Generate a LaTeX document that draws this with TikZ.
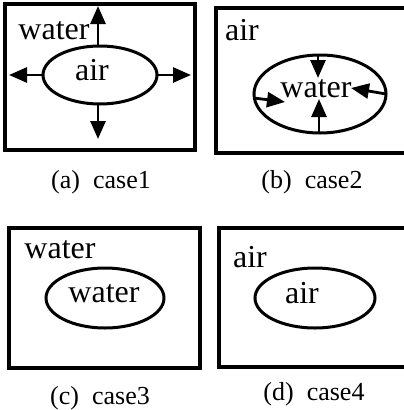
\documentclass[tikz,border=0pt]{standalone}
\usepackage{fontspec}
\setmainfont{Liberation Serif}
\usetikzlibrary{shapes.geometric,arrows.meta}
\tikzset{
  frame/.style={draw=black,line width=3.6pt,rectangle,inner sep=0pt,outer sep=0pt},
  bubble/.style={draw=black,line width=3pt,ellipse,inner sep=0pt,outer sep=0pt},
  lbl/.style={anchor=base,inner sep=0pt,font=\fontsize{32}{34}\selectfont},
  captext/.style={anchor=base,inner sep=0pt,font=\fontsize{26}{28}\selectfont},
  flow/.style={line width=2.8pt,-{Triangle[length=18pt,width=15pt]}}
}
\begin{document}
\begin{tikzpicture}[x=1pt,y=-1pt]
\useasboundingbox (0,0) rectangle (404,410);
\clip (0,0) rectangle (404,410);
% case 1
\node[frame,minimum width=190pt,minimum height=146pt] (boxa) at (100,77) {};
\node[bubble,minimum width=114pt,minimum height=58pt] (ea) at (100,75) {};
\node[lbl] (wa) at (54,39) {water};
\node[lbl] (aa) at (92,80) {air};
\coordinate (au) at (98,6);
\coordinate (al) at (9,75);
\coordinate (ar) at (191,75);
\coordinate (ad) at (98,139);
\draw[flow] (ea.north -| au) -- (au);
\draw[flow] (ea.west) -- (al);
\draw[flow] (ea.east) -- (ar);
\draw[flow] (ea.south -| ad) -- (ad);
\node[captext] (ca) at (101,188) {(a)\enspace case1};
% case 2
\node[frame,minimum width=190pt,minimum height=145pt] (boxb) at (311,80.5) {};
\node[bubble,minimum width=132pt,minimum height=78pt] (eb) at (320,94) {};
\node[lbl] (ab) at (242,40) {air};
\node[lbl] (wb) at (316,97) {water};
\coordinate (bu) at (318,78);
\coordinate (bd) at (319,99);
\coordinate (bl) at (285,102);
\coordinate (br) at (351,88);
\draw[flow] (eb.north -| bu) -- (bu);
\draw[flow] (eb.south -| bd) -- (bd);
\draw[flow] (eb.west) ++(0,4) -- (bl);
\draw[flow] (eb.east) -- (br);
\node[captext] (cb) at (312,188) {(b)\enspace case2};
% case 3
\node[frame,minimum width=191pt,minimum height=140pt] (boxc) at (104.5,298) {};
\node[bubble,minimum width=118pt,minimum height=60pt] (ec) at (105,298) {};
\node[lbl] (wc) at (60,258) {water};
\node[lbl] (wc2) at (104,302) {water};
\node[captext] (cc) at (100,404) {(c)\enspace case3};
% case 4
\node[frame,minimum width=190pt,minimum height=139pt] (boxd) at (314,297.5) {};
\node[bubble,minimum width=120pt,minimum height=60pt] (ed) at (315,298) {};
\node[lbl] (ad4) at (250,267) {air};
\node[lbl] (ad5) at (302,303) {air};
\node[captext] (cd) at (314,400) {(d)\enspace case4};
\end{tikzpicture}
\end{document}
